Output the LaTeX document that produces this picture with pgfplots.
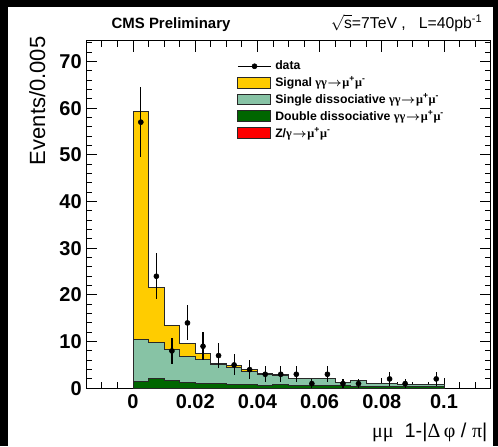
\documentclass[border=0pt]{standalone}
\usepackage{pgfplots}
\pgfplotsset{compat=1.18}
\usepackage{fontspec}
\setmainfont{Liberation Sans}
\newfontfamily\grk{Liberation Serif}

\definecolor{sigyellow}{RGB}{255,204,0}
\definecolor{sdgreen}{RGB}{135,195,165}
\definecolor{ddgreen}{RGB}{0,102,0}
\definecolor{zred}{RGB}{255,0,0}
\definecolor{edge}{RGB}{40,40,40}

\newcommand{\arr}{\kern0.5pt$\boldsymbol{\rightarrow}$\kern0.5pt}
\newcommand{\mumu}{{\grk γγ}\arr{\grk μ}\textsuperscript{+}{\grk μ}\textsuperscript{-}}
\usepackage{amsmath}

% stacked histogram: each column is the top of the stack up to that layer
% (left bin edge; the last row closes the final bin at 0.1)
\pgfplotstableread{
x      dd    sd    sig
0.000  1.50  10.40 59.30
0.005  2.00  9.80  21.60
0.010  1.57  8.20  13.40
0.015  1.30  6.80  9.50
0.020  1.07  6.10  7.50
0.025  1.07  5.00  5.40
0.030  0.86  4.50  4.85
0.035  0.86  3.60  4.00
0.040  0.70  3.05  3.20
0.045  0.86  2.65  2.90
0.050  0.60  2.00  2.05
0.055  0.55  2.00  2.05
0.060  0.50  2.00  2.05
0.065  0.50  1.28  1.33
0.070  0.45  1.57  1.62
0.075  0.40  1.00  1.05
0.080  0.40  1.00  1.05
0.085  0.35  0.86  0.90
0.090  0.35  0.86  0.90
0.095  0.30  0.71  0.75
0.100  0.30  0.71  0.75
}\stack

% observed events per bin (bin centres) with sqrt(N) errors
\pgfplotstableread{
x       n   e
0.0025  57  7.55
0.0075  24  4.90
0.0125  8   2.83
0.0175  14  3.74
0.0225  9   3.00
0.0275  7   2.65
0.0325  5   2.24
0.0375  4   2.00
0.0425  3   1.73
0.0475  3   1.73
0.0525  3   1.73
0.0575  1   1.00
0.0625  3   1.73
0.0675  1   1.00
0.0725  1   1.00
0.0825  2   1.41
0.0875  1   1.00
0.0975  2   1.41
}\data

\begin{document}
\begin{tikzpicture}
\path[use as bounding box] (0,0) rectangle (373.5pt,-334.5pt);
\fill[black] (0,0) rectangle (373.5pt,-334.5pt);
\fill[white] (6pt,-5.25pt) rectangle (369.75pt,-334.5pt);

\begin{axis}[
  at={(64.8pt,-291.2pt)}, anchor=south west,
  scale only axis, width=303.2pt, height=260.5pt,
  xmin=-0.015, xmax=0.115, ymin=0, ymax=74.4,
  axis line style={black, line width=0.75pt},
  tick align=inside, tick pos=both,
  xticklabel pos=lower, yticklabel pos=left,
  major tick length=8pt, minor tick length=4.5pt,
  every tick/.style={black, line width=0.7pt},
  xtick={0,0.02,0.04,0.06,0.08,0.1},
  xticklabels={0,0.02,0.04,0.06,0.08,0.1},
  minor xtick={-0.01,-0.005,0.005,0.01,0.015,0.025,0.03,0.035,0.045,0.05,0.055,0.065,0.07,0.075,0.085,0.09,0.095,0.105,0.11},
  ytick={0,10,...,70},
  minor ytick={0,2,...,74},
  /pgf/number format/assume math mode=true,
  tick label style={font=\bfseries\fontsize{15}{15}\selectfont},
  xticklabel style={yshift=-1pt},
  legend style={at={(axis cs:0.0322,71)}, anchor=north west, draw=none, fill=none,
    font=\bfseries\fontsize{9.2}{10}\selectfont, row sep=2.0pt,
    nodes={inner sep=0.8pt},
    /tikz/every odd column/.append style={column sep=2pt}},
  legend cell align=left,
]
\addlegendimage{legend image code/.code={\draw[black, line width=0.8pt] (0pt,0pt) -- (24.75pt,0pt); \fill[black] (12.4pt,0pt) circle (1.9pt);}}
\addlegendentry{data}
\addlegendimage{legend image code/.code={\draw[draw=edge, line width=0.75pt, fill=sigyellow] (0pt,-4.1pt) rectangle (24.75pt,4.1pt);}}
\addlegendentry{Signal \mumu}
\addlegendimage{legend image code/.code={\draw[draw=edge, line width=0.75pt, fill=sdgreen] (0pt,-4.1pt) rectangle (24.75pt,4.1pt);}}
\addlegendentry{Single dissociative \mumu}
\addlegendimage{legend image code/.code={\draw[draw=edge, line width=0.75pt, fill=ddgreen] (0pt,-4.1pt) rectangle (24.75pt,4.1pt);}}
\addlegendentry{Double dissociative \mumu}
\addlegendimage{legend image code/.code={\draw[draw=edge, line width=0.75pt, fill=zred] (0pt,-4.1pt) rectangle (24.75pt,4.1pt);}}
\addlegendentry{Z/{\grk γ}\arr{\grk μ}\textsuperscript{+}{\grk μ}\textsuperscript{-}}

\addplot[forget plot, const plot mark left, draw=edge, line width=0.75pt, fill=sigyellow] table[x=x, y=sig] {\stack} \closedcycle;
\addplot[forget plot, const plot mark left, draw=edge, line width=0.75pt, fill=sdgreen] table[x=x, y=sd] {\stack} \closedcycle;
\addplot[forget plot, const plot mark left, draw=edge, line width=0.75pt, fill=ddgreen] table[x=x, y=dd] {\stack} \closedcycle;

\addplot[forget plot, only marks, mark=*, mark size=1.9pt, black,
  error bars/.cd, y dir=both, y explicit, error mark=none,
  error bar style={line width=0.9pt, black}]
  table[x=x, y=n, y error=e] {\data};
\end{axis}

\node[anchor=base west, font=\bfseries\fontsize{11.2}{13}\selectfont] at (80.25pt,-21pt) {CMS Preliminary};
\node[anchor=base east, font=\fontsize{11.8}{13}\selectfont] at (365.25pt,-21pt) {$\sqrt{\mbox{s}}$=7TeV ,\ \ \ L=40pb\textsuperscript{-1}};
\node[rotate=90, anchor=base east, font=\fontsize{16.5}{16.5}\selectfont] at (33.75pt,-24pt) {Events/0.005};
\node[anchor=base east, font=\fontsize{15}{15}\selectfont] at (369pt,-327.75pt) {{\grk μμ}\ \ 1-|{\grk Δ}\,{\grk φ} / {\grk π}|};
\end{tikzpicture}
\end{document}
